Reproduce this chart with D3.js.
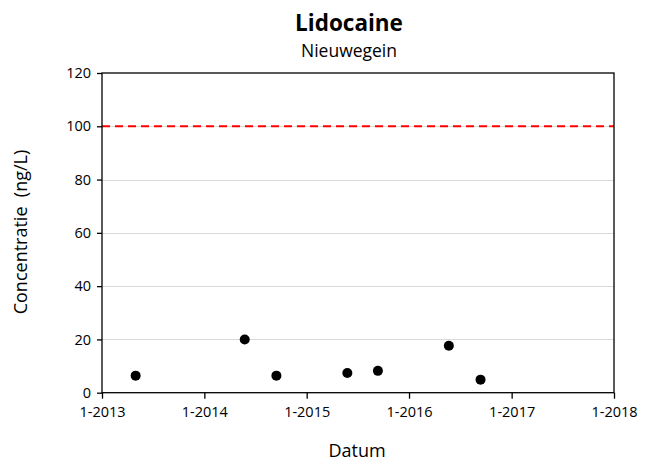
<!DOCTYPE html>
<html><head><meta charset="utf-8">
<script src="https://cdn.jsdelivr.net/npm/d3@7"></script>
<style>body{margin:0;background:#fff}svg{display:block}text{font-family:"Open Sans","Liberation Sans",sans-serif}</style>
</head><body>
<script>
const dates = ["2013-05-01","2014-05-25","2014-09-15","2015-05-26","2015-09-12","2016-05-22","2016-09-12"];
const values = [6.4, 20, 6.4, 7.4, 8.2, 17.6, 4.9];
const yTicks = [0,20,40,60,80,100,120];
const xTickYears = [2013,2014,2015,2016,2017,2018];
const limit = 100;

const W=656,H=464;
const m={l:102,r:42,t:73,b:72};
const svg=d3.select("body").append("svg").attr("width",W).attr("height",H);
const parse=d3.timeParse("%Y-%m-%d");
const x=d3.scaleTime().domain([new Date(2013,0,1),new Date(2018,0,1)]).range([m.l,W-m.r]);
const y=d3.scaleLinear().domain([0,120]).range([H-m.b+0.7,m.t]);

// gridlines
svg.append("g").selectAll("line").data(yTicks.filter(d=>d>0&&d<120)).join("line")
 .attr("x1",m.l).attr("x2",W-m.r).attr("y1",d=>Math.round(y(d))+0.5).attr("y2",d=>Math.round(y(d))+0.5)
 .attr("stroke","#d9d9d9").attr("stroke-width",1);

// limit line
svg.append("line").attr("x1",m.l).attr("x2",W-m.r).attr("y1",y(limit)).attr("y2",y(limit))
 .attr("stroke","#ff0000").attr("stroke-width",2).attr("stroke-dasharray","8,5");

// frame
svg.append("rect").attr("x",m.l).attr("y",m.t).attr("width",W-m.r-m.l).attr("height",y(0)-m.t)
 .attr("fill","none").attr("stroke","#000").attr("stroke-width",1.3);

// axes
const ya=svg.append("g").attr("transform",`translate(${m.l},0)`)
 .call(d3.axisLeft(y).tickValues(yTicks).tickSize(5).tickPadding(6));
ya.select(".domain").remove();
ya.selectAll("text").attr("font-size",14.5).attr("fill","#000").style("font-family","'Open Sans',sans-serif");
ya.selectAll("line").attr("stroke","#000").attr("stroke-width",1.3);

const xa=svg.append("g").attr("transform",`translate(0,${y(0)})`)
 .call(d3.axisBottom(x).tickValues(xTickYears.map(v=>new Date(v,0,1))).tickFormat(d=>"1-"+d.getFullYear()).tickSize(6).tickPadding(8));
xa.select(".domain").remove();
xa.selectAll("text").attr("font-size",14.5).attr("fill","#000").style("font-family","'Open Sans',sans-serif");
xa.selectAll("line").attr("stroke","#000").attr("stroke-width",1.3);

// points
svg.append("g").selectAll("circle").data(dates.map((d,i)=>({d:parse(d),v:values[i]}))).join("circle")
 .attr("cx",d=>x(d.d)).attr("cy",d=>y(d.v)).attr("r",5).attr("fill","#000");

// titles
svg.append("text").attr("x",349).attr("y",31).attr("text-anchor","middle").attr("font-size",22.5).attr("font-weight","bold").text("Lidocaine");
svg.append("text").attr("x",349).attr("y",57).attr("text-anchor","middle").attr("font-size",17.5).text("Nieuwegein");
svg.append("text").attr("x",357).attr("y",457).attr("text-anchor","middle").attr("font-size",18).text("Datum");
svg.append("text").attr("transform","translate(27,232) rotate(-90)").attr("text-anchor","middle").attr("font-size",18).attr("xml:space","preserve").style("white-space","pre").text("Concentratie  (ng/L)");
</script>
</body></html>
